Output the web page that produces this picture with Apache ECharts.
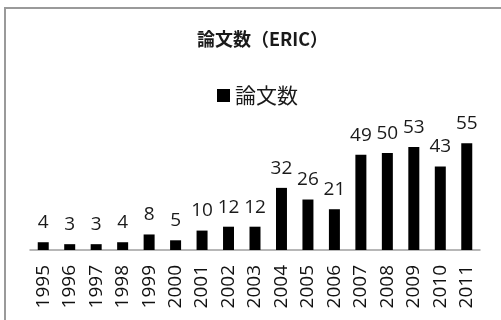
<!DOCTYPE html>
<html>
<head>
<meta charset="utf-8">
<script src="https://cdn.jsdelivr.net/npm/echarts@6/dist/echarts.min.js"></script>
<style>
html,body{margin:0;padding:0;background:#fff;}
#chart{width:501px;height:320px;}
</style>
</head>
<body>
<div id="chart"></div>
<script>
const titleText = '論文数（ERIC）';
const seriesName = '論文数';
const years = ['1995','1996','1997','1998','1999','2000','2001','2002','2003','2004','2005','2006','2007','2008','2009','2010','2011'];
const papers = [4,3,3,4,8,5,10,12,12,32,26,21,49,50,53,43,55];

const chart = echarts.init(document.getElementById('chart'), null, {renderer:'canvas'});
chart.setOption({
  backgroundColor: '#fff',
  animation: false,
  graphic: [{
    type: 'rect',
    shape: {x: 5, y: 8, width: 600, height: 400},
    style: {fill: 'none', stroke: '#9a9a9a', lineWidth: 2},
    silent: true
  }],
  title: {
    text: titleText,
    left: 192,
    top: 25,
    textStyle: {fontFamily: 'Noto Sans CJK JP', fontSize: 18, fontWeight: 'bold', color: '#1a1a1a'}
  },
  legend: {
    data: [seriesName],
    left: 212,
    top: 80,
    icon: 'rect',
    itemWidth: 13,
    itemHeight: 13,
    itemGap: 5,
    textStyle: {fontFamily: 'Noto Sans CJK JP', fontSize: 21, color: '#1a1a1a'}
  },
  grid: {left: 30, right: 21, top: 133.5, bottom: 70, containLabel: false},
  xAxis: {
    type: 'category',
    data: years,
    axisLine: {lineStyle: {color: '#a0a0a0', width: 1.5}},
    axisTick: {show: false},
    axisLabel: {rotate: 90, margin: 15, fontFamily: 'Open Sans', fontSize: 19, color: '#111', interval: 0}
  },
  yAxis: {
    type: 'value',
    min: 0,
    max: 60,
    show: false,
    splitLine: {show: false}
  },
  series: [{
    name: seriesName,
    type: 'bar',
    data: papers,
    barWidth: 11,
    itemStyle: {color: '#000'},
    label: {show: true, position: 'top', distance: 10, fontFamily: 'Open Sans', fontSize: 19, color: '#1a1a1a'}
  }]
});
</script>
</body>
</html>
